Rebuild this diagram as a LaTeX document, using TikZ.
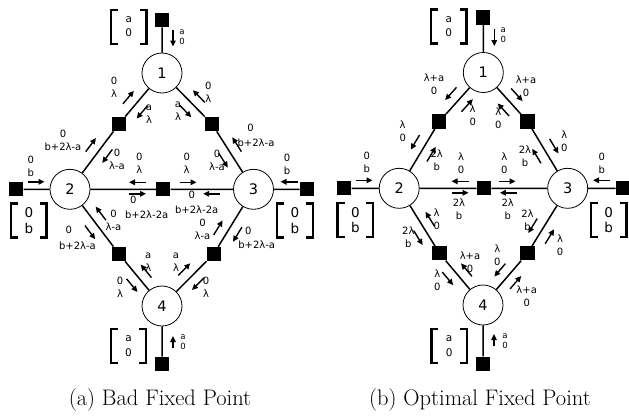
\documentclass[tikz,border=0pt]{standalone}
\usepackage{fontspec}
\newfontfamily\dvs{DejaVu Sans}
\usetikzlibrary{arrows.meta,calc}
% message arrow: [half length]{tail}{head}{near point}{signed offset in pt, + = left of travel}
\newcommand\marr[5][8.5pt]{\draw[msg] let \p1=($(#3)-(#2)$), \n1={atan2(\y1,\x1)} in
  ($(#2)!#4!(#3)+(\n1+90:#5pt)+(\n1:-#1)$) -- ($(#2)!#4!(#3)+(\n1+90:#5pt)+(\n1:#1)$);}
\newcommand\lb[4]{\node[lbl] (#1) at #2 {#3\\#4};}
\newcommand\lbs[4]{\node[lbls] (#1) at #2 {#3\\#4};}
\newcommand\brkt[5]{%
  \draw[brk] ($#2+(-10.8,-17)$) -- ++(-7,0) -- ++(0,34) -- ++(7,0);
  \draw[brk] ($#2+(10.8,-17)$) -- ++(7,0) -- ++(0,34) -- ++(-7,0);
  \node[#3] (#1) at #2 {#4\\#5};}
\begin{document}
\begin{tikzpicture}[x=1pt,y=-1pt,
  var/.style={circle,draw,line width=0.8pt,minimum size=40pt,inner sep=0pt,font=\dvs\fontsize{14.5}{15}\selectfont},
  fac/.style={fill=black,minimum size=14.3pt,inner sep=0pt},
  edge/.style={line width=1.5pt},
  msg/.style={line width=1.4pt,-{Triangle[length=6pt,width=5.5pt]}},
  lbl/.style={font=\dvs\fontsize{10}{13}\selectfont,align=center,inner sep=0pt},
  lbls/.style={font=\dvs\fontsize{8.5}{10}\selectfont,align=center,inner sep=0pt},
  lone/.style={font=\dvs\fontsize{10}{13}\selectfont,inner sep=0pt},
  brk/.style={line width=2.3pt},
  bsmall/.style={font=\dvs\fontsize{10.5}{14.5}\selectfont,align=center,inner sep=0pt},
  bbig/.style={font=\dvs\fontsize{13.5}{15.5}\selectfont,align=center,inner sep=0pt},
  captext/.style={font=\fontsize{22.5}{26}\selectfont,anchor=base,inner sep=0pt}]
\useasboundingbox (0,0) rectangle (629,415);

%================ (a) ================
\node[var] (a1) at (162,73) {1};
\node[var] (a2) at (70,189.3) {2};
\node[var] (a3) at (253.5,189.3) {3};
\node[var] (a4) at (162,306) {4};
\node[fac] (aT) at (162,20) {};
\node[fac] (aL) at (16.3,189.3) {};
\node[fac] (aR) at (307,189.3) {};
\node[fac] (aBt) at (162,364) {};
\node[fac] (aA) at (119,124) {};
\node[fac] (aB) at (212,124) {};
\node[fac] (aC) at (163.3,189.3) {};
\node[fac] (aD) at (119,254) {};
\node[fac] (aE) at (213.7,254) {};
\draw[edge] (aT)--(a1) (aL)--(a2) (aR)--(a3) (aBt)--(a4)
  (aA)--(a1) (aA)--(a2) (aB)--(a1) (aB)--(a3)
  (aC)--(a2) (aC)--(a3) (aD)--(a2) (aD)--(a4) (aE)--(a3) (aE)--(a4);

\marr{aT}{a1}{(173,38)}{11}
\marr[6pt]{aBt}{a4}{(173,342)}{-11}
\marr{aL}{a2}{(36,182)}{7.5}
\marr{aR}{a3}{(289,182)}{-7.5}
\marr{aA}{a1}{(128,97)}{10}
\marr{a1}{aA}{(141.7,111.7)}{10}
\marr{aB}{a1}{(196.7,98.3)}{-10}
\marr{a1}{aB}{(188.3,108.3)}{-10}
\marr{a2}{aA}{(93.3,146.7)}{10}
\marr{aA}{a2}{(108,156.7)}{10}
\marr{a3}{aB}{(233.3,146.7)}{-10}
\marr{aB}{a3}{(225,159.3)}{-10}
\marr{aC}{a2}{(137.5,183)}{-7}
\marr{a2}{aC}{(137.5,193)}{-4.5}
\marr{aC}{a3}{(188,183)}{7}
\marr{a3}{aC}{(211.7,193)}{4.5}
\marr{a2}{aD}{(93.3,230)}{-10}
\marr{aD}{a2}{(98,215.5)}{-10}
\marr{aD}{a4}{(135,283)}{-10}
\marr{a4}{aD}{(145,272)}{-10}
\marr{aE}{a4}{(197,283)}{10}
\marr{a4}{aE}{(183,268)}{10}
\marr{a3}{aE}{(235,233)}{10}
\marr{aE}{a3}{(222,230)}{10}

\lbs{la1}{(182,37)}{a}{0}
\lbs{la2}{(183,342)}{a}{0}
\lb{la3}{(30.7,166)}{0}{b}
\lb{la4}{(287,164.5)}{0}{b}
\lb{la5}{(114,87)}{0}{λ}
\lb{la6}{(149,114)}{a}{λ}
\lb{la7}{(208.3,92.7)}{0}{λ}
\lb{la8}{(178,110.7)}{a}{λ}
\lb{la9}{(63,140)}{0}{b+2λ-a}
\lb{la10}{(117,159.7)}{0}{λ-a}
\node[lone] (la11a) at (250.5,128.3) {0};
\node[lone] (la11b) at (256,142.7) {b+2λ-a};
\lb{la12}{(217,160.3)}{0}{λ-a}
\lb{la13}{(139.3,163)}{0}{λ}
\node[lone] (la14a) at (133.3,200) {0};
\node[lone] (la14b) at (146.7,215) {b+2λ-2a};
\lb{la15}{(186.7,163.3)}{0}{λ}
\node[lone] (la16a) at (191.7,194.5) {0};
\node[lone] (la16b) at (196.7,210) {b+2λ-2a};
\node[lone] (la17a) at (68.7,230) {0};
\node[lone] (la17b) at (77.5,246) {b+2λ-a};
\lb{la18}{(113.5,220)}{0}{λ-a}
\lb{la19}{(120,287)}{0}{λ}
\lb{la20}{(148.3,261.7)}{a}{λ}
\lb{la21}{(206,287)}{0}{λ}
\lb{la22}{(176,261.7)}{a}{λ}
\lb{la23}{(202.5,229)}{0}{λ-a}
\node[lone] (la24a) at (248.3,230.7) {0};
\node[lone] (la24b) at (256.7,245) {b+2λ-a};

\brkt{ka1}{(128.8,26.7)}{bsmall}{a}{0}
\brkt{ka2}{(28.8,220.5)}{bbig}{0}{b}
\brkt{ka3}{(295,220.5)}{bbig}{0}{b}
\brkt{ka4}{(128.5,346.3)}{bsmall}{a}{0}

\node[captext] (capa) at (160,405) {(a) Bad Fixed Point};

%================ (b) ================
\node[var] (b1) at (483.3,72.5) {1};
\node[var] (b2) at (399.2,188.3) {2};
\node[var] (b3) at (567.7,188.3) {3};
\node[var] (b4) at (483,305) {4};
\node[fac] (bT) at (483.3,17.5) {};
\node[fac] (bL) at (344.2,188.3) {};
\node[fac] (bR) at (623,188.3) {};
\node[fac] (bBt) at (483,363.7) {};
\node[fac] (bA) at (439.3,121.5) {};
\node[fac] (bB) at (527.5,121.5) {};
\node[fac] (bC) at (484,188.3) {};
\node[fac] (bD) at (439.5,253.3) {};
\node[fac] (bE) at (527.5,253.3) {};
\draw[edge] (bT)--(b1) (bL)--(b2) (bR)--(b3) (bBt)--(b4)
  (bA)--(b1) (bA)--(b2) (bB)--(b1) (bB)--(b3)
  (bC)--(b2) (bC)--(b3) (bD)--(b2) (bD)--(b4) (bE)--(b3) (bE)--(b4);

\marr{bT}{b1}{(495,37.5)}{11}
\marr[6pt]{bBt}{b4}{(495,340)}{-11}
\marr{bL}{b2}{(364,180.5)}{8}
\marr{bR}{b3}{(601.5,180.5)}{-8}
\marr{b1}{bA}{(450,93)}{-10}
\marr{bA}{b1}{(466.7,105)}{-10}
\marr{b1}{bB}{(516.7,95)}{10}
\marr{bB}{b1}{(506.7,106.7)}{10}
\marr{bA}{b2}{(416.7,143.3)}{-10}
\marr{b2}{bA}{(430,153.3)}{-10}
\marr{bB}{b3}{(553.3,146.7)}{10}
\marr{b3}{bB}{(538.3,155)}{10}
\marr{bC}{b2}{(460,182)}{-7}
\marr{b2}{bC}{(460,193)}{-4.5}
\marr{bC}{b3}{(507,182)}{7}
\marr{b3}{bC}{(508.3,193)}{4.5}
\marr{bD}{b2}{(428.3,220)}{-10}
\marr{b2}{bD}{(420,236.7)}{-10}
\marr{b4}{bD}{(468.3,268.3)}{-10}
\marr{bD}{b4}{(450,276.7)}{-10}
\marr{bE}{b4}{(501.7,271.7)}{-10}
\marr{b4}{bE}{(516.7,283.3)}{-10}
\marr{b3}{bE}{(536.7,228.3)}{-10}
\marr{bE}{b3}{(550,236.7)}{-10}

\lbs{lb1}{(503.3,35)}{a}{0}
\lbs{lb2}{(505,341)}{a}{0}
\lb{lb3}{(366.7,162)}{0}{b}
\lb{lb4}{(601.7,163)}{0}{b}
\lb{lb5}{(434,84)}{λ+a}{0}
\lb{lb6}{(472.7,115.5)}{λ}{0}
\lb{lb7}{(526,86.7)}{λ+a}{0}
\lb{lb8}{(498.3,118.3)}{λ}{0}
\lb{lb9}{(402.7,131.3)}{λ}{0}
\lb{lb10}{(436.7,160.3)}{2λ}{b}
\lb{lb11}{(564.3,141.3)}{λ}{0}
\lb{lb12}{(525,156.7)}{2λ}{b}
\lb{lb13}{(461,163.3)}{λ}{0}
\lb{lb14}{(459,209.3)}{2λ}{b}
\lb{lb15}{(504.3,163.7)}{λ}{0}
\lb{lb16}{(507.7,209.3)}{2λ}{b}
\lb{lb17}{(436.7,219.7)}{λ}{0}
\lb{lb18}{(408.3,237.3)}{2λ}{b}
\lb{lb19}{(470,262.5)}{λ+a}{0}
\lb{lb20}{(437.3,280.7)}{λ}{0}
\lb{lb21}{(497.3,255)}{λ}{0}
\lb{lb22}{(526.7,296)}{λ+a}{0}
\lb{lb23}{(527.5,220.7)}{2λ}{b}
\lb{lb24}{(560,245)}{λ}{0}

\brkt{kb1}{(448.8,26.5)}{bsmall}{a}{0}
\brkt{kb2}{(355.3,220)}{bbig}{0}{b}
\brkt{kb3}{(608.7,220)}{bbig}{0}{b}
\brkt{kb4}{(449.2,346)}{bsmall}{a}{0}

\node[captext] (capb) at (480,405) {(b) Optimal Fixed Point};
\end{tikzpicture}
\end{document}
